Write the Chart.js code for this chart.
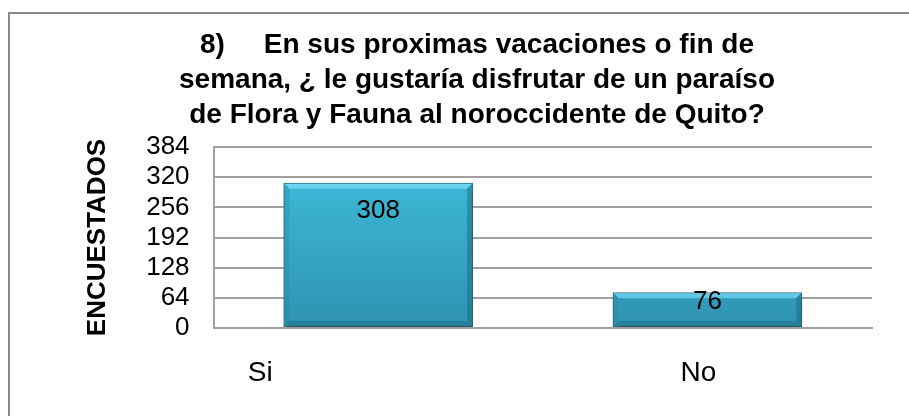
<!DOCTYPE html>
<html>
<head>
<meta charset="utf-8">
<script src="https://cdn.jsdelivr.net/npm/chart.js@4/dist/chart.umd.min.js"></script>
<style>
    html, body { margin: 0; padding: 0; background: #fff; overflow: hidden; }
    #frame {
        position: absolute; left: 8px; top: 12px; width: 1000px; height: 1000px;
        border-left: 2.5px solid #8a8a8a; border-top: 2.5px solid #8a8a8a;
    }
    #myChart { position: absolute; left: 0; top: 0; }
</style>
</head>
<body>
<div id="frame"></div>
<canvas id="myChart" width="909" height="416"></canvas>
<script>
// chart data
const categories = ['Si', 'No'];
const encuestados = [308, 76];
const yTicks = [0, 64, 128, 192, 256, 320, 384];
const titleLines = [
    '8)     En sus proximas vacaciones o fin de',
    'semana, ¿ le gustaría disfrutar de un paraíso',
    'de Flora y Fauna al noroccidente de Quito?'
];

document.addEventListener('DOMContentLoaded', function() {
    const ctx = document.getElementById('myChart').getContext('2d');
    const fontFamily = 'Arial, "Liberation Sans", sans-serif';

    // Bar fill: gradient from light cyan at the top to darker teal at the bottom
    function barGradient(context) {
        const chart = context.chart;
        const area = chart.chartArea;
        if (!area) {
            return '#38b2d4';
        }
        const g = chart.ctx.createLinearGradient(0, area.top, 0, area.bottom);
        g.addColorStop(0, '#3ec0de');
        g.addColorStop(1, '#2f93b1');
        return g;
    }

    // Drop shadow under the bars
    const shadowPlugin = {
        id: 'barShadow',
        beforeDatasetsDraw(chart) {
            const c = chart.ctx;
            c.save();
            c.shadowColor = 'rgba(0, 0, 0, 0.35)';
            c.shadowBlur = 6;
            c.shadowOffsetX = 2;
            c.shadowOffsetY = 4;
        },
        afterDatasetsDraw(chart) {
            chart.ctx.restore();
        }
    };

    // Bevelled edges like the Excel 3D bar style
    const bevelPlugin = {
        id: 'bevel',
        afterDatasetsDraw(chart) {
            const c = chart.ctx;
            const meta = chart.getDatasetMeta(0);
            const b = 5;
            meta.data.forEach(function(bar) {
                const l = bar.x - bar.width / 2 + 1;
                const r = bar.x + bar.width / 2 - 1;
                const t = bar.y + 1;
                const btm = bar.base - 1;
                function poly(pts, color) {
                    c.beginPath();
                    c.moveTo(pts[0][0], pts[0][1]);
                    for (let k = 1; k < pts.length; k++) {
                        c.lineTo(pts[k][0], pts[k][1]);
                    }
                    c.closePath();
                    c.fillStyle = color;
                    c.fill();
                }
                c.save();
                poly([[l, t], [r, t], [r - b, t + b], [l + b, t + b]], 'rgba(130, 230, 255, 0.6)');
                poly([[l, t], [l + b, t + b], [l + b, btm - b], [l, btm]], 'rgba(30, 120, 150, 0.25)');
                poly([[r, t], [r, btm], [r - b, btm - b], [r - b, t + b]], 'rgba(20, 90, 115, 0.4)');
                poly([[l, btm], [l + b, btm - b], [r - b, btm - b], [r, btm]], 'rgba(20, 90, 115, 0.35)');
                c.restore();
            });
        }
    };

    // Value labels inside the top of each bar
    const valueLabels = {
        id: 'valueLabels',
        afterDatasetsDraw(chart) {
            const c = chart.ctx;
            const meta = chart.getDatasetMeta(0);
            c.save();
            c.font = '26px ' + fontFamily;
            c.fillStyle = '#000';
            c.textAlign = 'center';
            c.textBaseline = 'middle';
            meta.data.forEach(function(bar, i) {
                const dy = encuestados[i] > 200 ? 28 : 10;
                c.fillText(String(encuestados[i]), bar.x, bar.y + dy);
            });
            c.restore();
        }
    };

    // Category labels under the axis (Excel places them left of centre)
    const catLabels = {
        id: 'catLabels',
        afterDraw(chart) {
            const c = chart.ctx;
            const xs = chart.scales.x;
            const shift = [-118, -9];
            c.save();
            c.font = '28px ' + fontFamily;
            c.fillStyle = '#000';
            c.textAlign = 'center';
            c.textBaseline = 'middle';
            categories.forEach(function(label, i) {
                c.fillText(label, xs.getPixelForValue(i) + shift[i], chart.chartArea.bottom + 45);
            });
            c.restore();
        }
    };

    new Chart(ctx, {
        type: 'bar',
        data: {
            labels: categories,
            datasets: [{
                label: 'ENCUESTADOS',
                data: encuestados,
                backgroundColor: barGradient,
                borderColor: '#2a7e95',
                borderWidth: 1.5,
                borderSkipped: false,
                categoryPercentage: 1,
                barPercentage: 0.576
            }]
        },
        options: {
            responsive: false,
            animation: false,
            layout: {
                padding: { left: 82, right: 37, top: 28, bottom: 80 }
            },
            plugins: {
                legend: { display: false },
                tooltip: { enabled: false },
                title: {
                    display: true,
                    text: titleLines,
                    color: '#000',
                    font: { family: fontFamily, size: 28, weight: 'bold', lineHeight: 1.25 },
                    padding: { top: 0, bottom: 14 }
                }
            },
            scales: {
                x: {
                    ticks: { display: false },
                    grid: { display: false },
                    border: { display: true, color: '#a0a0a0', width: 2 }
                },
                y: {
                    min: 0,
                    max: 384,
                    afterBuildTicks(scale) {
                        scale.ticks = yTicks.map(v => ({ value: v }));
                    },
                    ticks: {
                        color: '#000',
                        padding: 24,
                        autoSkip: false,
                        font: { family: fontFamily, size: 26 }
                    },
                    grid: { color: '#a0a0a0', lineWidth: 2, drawTicks: false },
                    border: { display: true, color: '#a0a0a0', width: 2 },
                    title: {
                        display: true,
                        text: 'ENCUESTADOS',
                        color: '#000',
                        font: { family: fontFamily, size: 26, weight: 'bold' },
                        padding: { top: 0, bottom: 9 }
                    }
                }
            }
        },
        plugins: [shadowPlugin, bevelPlugin, valueLabels, catLabels]
    });
});
</script>
</body>
</html>
